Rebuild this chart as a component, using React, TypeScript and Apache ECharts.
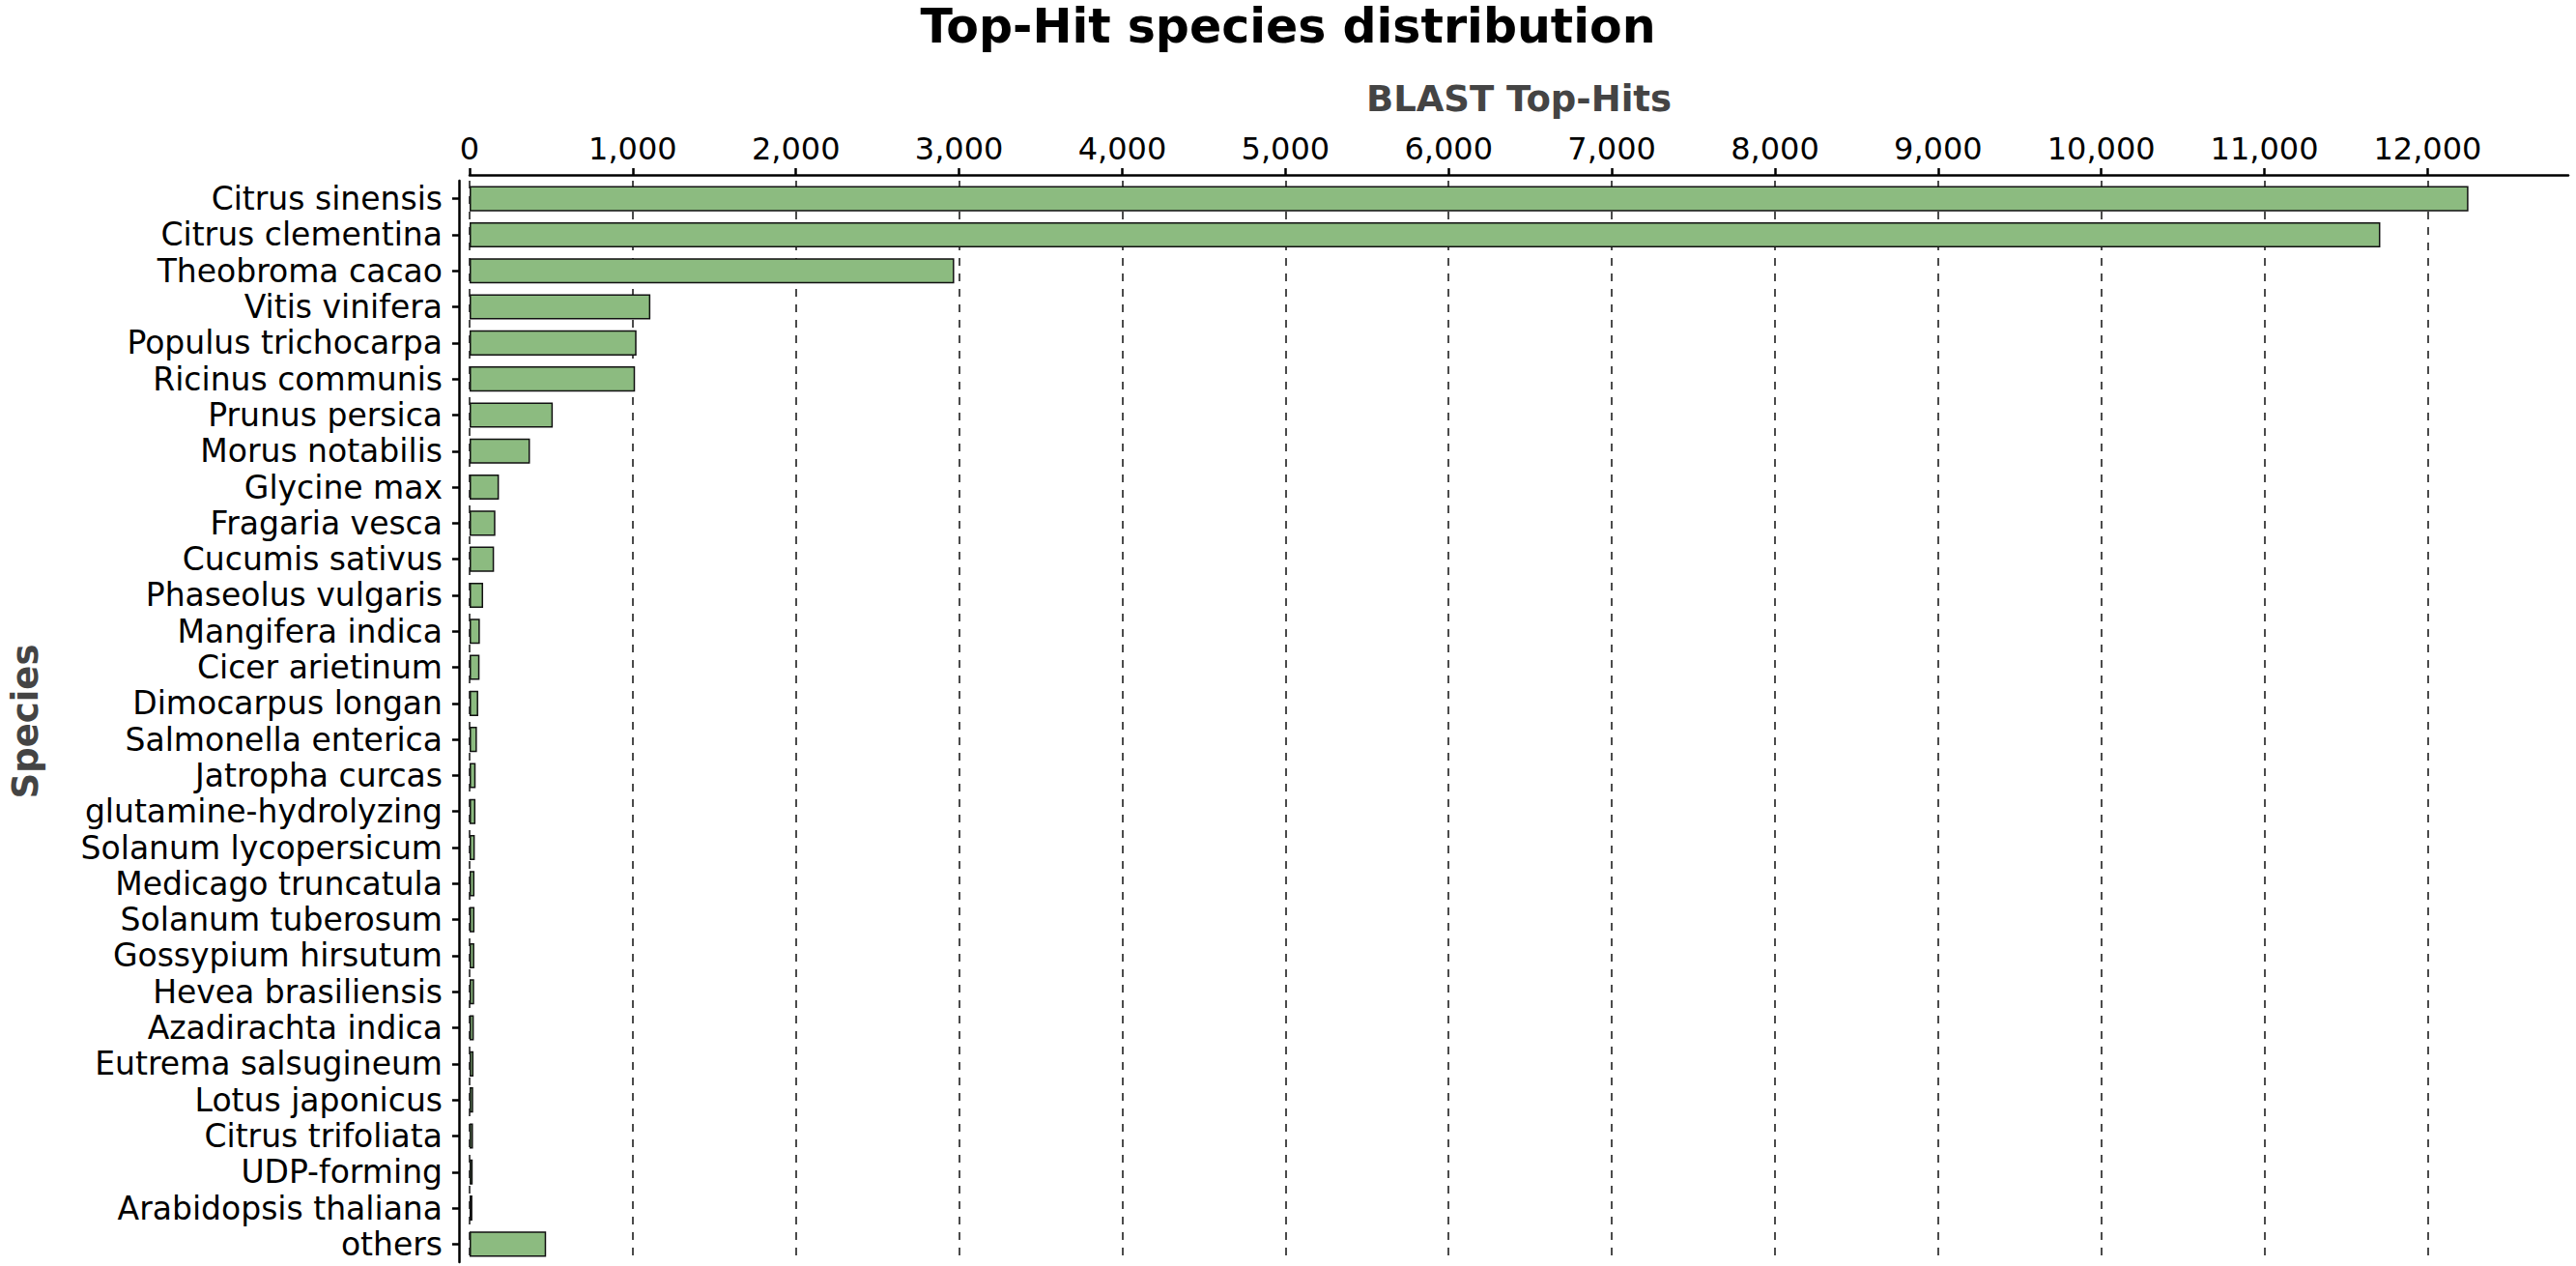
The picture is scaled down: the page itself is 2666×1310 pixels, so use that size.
import React, { useEffect, useRef } from "react";
import * as echarts from "echarts";

const species = [
  "Citrus sinensis",
  "Citrus clementina",
  "Theobroma cacao",
  "Vitis vinifera",
  "Populus trichocarpa",
  "Ricinus communis",
  "Prunus persica",
  "Morus notabilis",
  "Glycine max",
  "Fragaria vesca",
  "Cucumis sativus",
  "Phaseolus vulgaris",
  "Mangifera indica",
  "Cicer arietinum",
  "Dimocarpus longan",
  "Salmonella enterica",
  "Jatropha curcas",
  "glutamine-hydrolyzing",
  "Solanum lycopersicum",
  "Medicago truncatula",
  "Solanum tuberosum",
  "Gossypium hirsutum",
  "Hevea brasiliensis",
  "Azadirachta indica",
  "Eutrema salsugineum",
  "Lotus japonicus",
  "Citrus trifoliata",
  "UDP-forming",
  "Arabidopsis thaliana",
  "others",
];

const topHits = [
  12250, 11710, 2970, 1108, 1023, 1014, 510, 370, 180, 158, 150, 83, 63, 61, 53,
  45, 37, 36, 32, 30, 30, 29, 28, 26, 24, 22, 21, 19, 17, 469,
];

const xTicks = [0, 1000, 2000, 3000, 4000, 5000, 6000, 7000, 8000, 9000, 10000, 11000, 12000];
const xMax = 12862;

const FONT = "DejaVu Sans";

function fmt(v: number): string {
  return String(Math.round(v)).replace(/\B(?=(\d{3})+(?!\d))/g, ",");
}

export default function App() {
  const ref = useRef<HTMLDivElement>(null);

  useEffect(() => {
    document.body.style.margin = "0";
    const chart = echarts.init(ref.current as HTMLDivElement, null, { renderer: "svg" });
    chart.setOption({
      animation: false,
      backgroundColor: "#ffffff",
      title: {
        text: "Top-Hit species distribution",
        left: "center",
        top: -2,
        textStyle: { fontFamily: FONT, fontWeight: "bold", fontSize: 49, color: "#000000" },
      },
      grid: { left: 481, right: 8, top: 187, bottom: 4, containLabel: false },
      xAxis: {
        type: "value",
        position: "top",
        min: 0,
        max: xMax,
        interval: 1000,
        offset: 6,
        name: "BLAST Top-Hits",
        nameLocation: "middle",
        nameGap: 60,
        nameTextStyle: { fontFamily: FONT, fontWeight: "bold", fontSize: 37, color: "#444444" },
        axisLine: { show: true, onZero: false, lineStyle: { color: "#000000", width: 2.5 } },
        axisTick: { show: true, length: 7, customValues: xTicks, lineStyle: { color: "#000000", width: 2.5 } },
        axisLabel: {
          customValues: xTicks,
          margin: 11,
          fontFamily: FONT,
          fontSize: 32,
          color: "#000000",
          formatter: (v: number) => fmt(v),
        },
        splitLine: {
          show: true,
          lineStyle: { type: [8, 8], color: "#111111", width: 1.5 },
        },
      },
      yAxis: {
        type: "category",
        inverse: true,
        data: species,
        offset: 11,
        name: "Species",
        nameLocation: "middle",
        nameGap: 430,
        nameTextStyle: { fontFamily: FONT, fontWeight: "bold", fontSize: 37, color: "#444444" },
        axisLine: { show: true, onZero: false, lineStyle: { color: "#000000", width: 2.5 } },
        axisTick: { show: true, alignWithLabel: true, length: 7, lineStyle: { color: "#000000", width: 2.5 } },
        axisLabel: { interval: 0, margin: 17, fontFamily: FONT, fontSize: 33, color: "#000000" },
        splitLine: { show: false },
      },
      series: [
        {
          type: "bar",
          data: topHits,
          barCategoryGap: "30%",
          itemStyle: { color: "#8cbb80", borderColor: "#111111", borderWidth: 1.5 },
        },
      ],
    });
    return () => chart.dispose();
  }, []);

  return <div ref={ref} style={{ width: 2666, height: 1310 }} />;
}
